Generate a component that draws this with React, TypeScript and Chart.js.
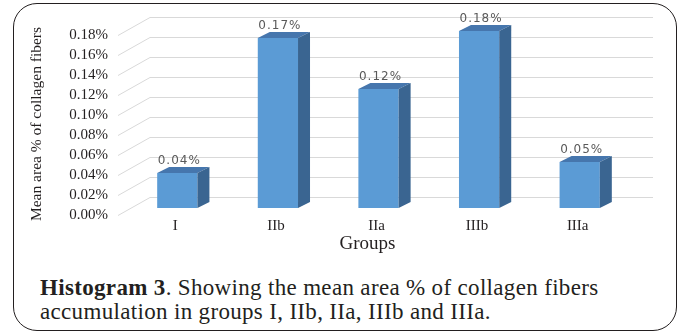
import React, { useEffect, useRef } from "react";
import { Chart, registerables } from "chart.js";

Chart.register(...registerables);

const categories = ["I", "IIb", "IIa", "IIIb", "IIIa"];
const meanAreaPct = [0.035, 0.17, 0.119, 0.177, 0.046];
const yMin = 0;
const yMax = 0.18;
const yStep = 0.02;
const yAxisTitle = "Mean area % of collagen fibers";
const xAxisTitle = "Groups";
const captionBold = "Histogram 3";
const captionRest = ". Showing the mean area % of collagen fibers";
const captionLine2 = "accumulation in groups I, IIb, IIa, IIIb and IIIa.";

const SERIF = '"Liberation Serif", "Times New Roman", serif';
const FRONT = "#5b9bd5";
const TOP = "#4676ad";
const SIDE = "#3a6591";
const GRID = "#d9d9d9";
const BAR_DX = 12;
const BAR_DY = 6;

const threeD = {
  id: "threeD",
  beforeDatasetsDraw(chart: any) {
    const { ctx, chartArea, scales } = chart;
    const y = scales.y;
    ctx.save();
    ctx.strokeStyle = GRID;
    ctx.lineWidth = 1;
    y.ticks.forEach((t: any) => {
      const py = Math.round(y.getPixelForValue(t.value)) + 0.5;
      ctx.beginPath();
      ctx.moveTo(chartArea.left - 9, py + 7);
      ctx.lineTo(chartArea.left + 23, py - 11);
      ctx.lineTo(chartArea.right + 23, py - 11);
      ctx.stroke();
    });
    ctx.restore();
  },
  afterDatasetsDraw(chart: any) {
    const { ctx } = chart;
    const meta = chart.getDatasetMeta(0);
    ctx.save();
    meta.data.forEach((bar: any, i: number) => {
      const { x, y, base, width } = bar.getProps(["x", "y", "base", "width"], true);
      const l = x - width / 2;
      const r = x + width / 2;
      ctx.fillStyle = TOP;
      ctx.beginPath();
      ctx.moveTo(l, y);
      ctx.lineTo(l + BAR_DX, y - BAR_DY);
      ctx.lineTo(r + BAR_DX, y - BAR_DY);
      ctx.lineTo(r, y);
      ctx.closePath();
      ctx.fill();
      ctx.fillStyle = SIDE;
      ctx.beginPath();
      ctx.moveTo(r, y);
      ctx.lineTo(r + BAR_DX, y - BAR_DY);
      ctx.lineTo(r + BAR_DX, base - BAR_DY);
      ctx.lineTo(r, base);
      ctx.closePath();
      ctx.fill();
      const v = meanAreaPct[i];
      ctx.fillStyle = "#595959";
      ctx.font = '12px "DejaVu Sans", sans-serif';
      try { (ctx as any).letterSpacing = "1px"; } catch (e) {}
      ctx.textAlign = "center";
      ctx.textBaseline = "alphabetic";
      ctx.fillText(v.toFixed(2) + "%", x + 2, y - BAR_DY - 3);
    });
    ctx.restore();
  },
  afterDraw(chart: any) {
    const { ctx, chartArea } = chart;
    ctx.save();
    ctx.fillStyle = "#231f20";
    ctx.font = "15.5px " + SERIF;
    ctx.textAlign = "center";
    ctx.textBaseline = "middle";
    ctx.translate(37, (chartArea.top + chartArea.bottom) / 2 + 6);
    ctx.rotate(-Math.PI / 2);
    ctx.fillText(yAxisTitle, 0, 0);
    ctx.restore();
    ctx.save();
    ctx.fillStyle = "#231f20";
    ctx.font = "19px " + SERIF;
    ctx.textAlign = "center";
    ctx.textBaseline = "alphabetic";
    ctx.fillText(xAxisTitle, (chartArea.left + chartArea.right) / 2 - 11, 249);
    ctx.restore();
  },
};

export default function App() {
  const ref = useRef<HTMLCanvasElement | null>(null);
  useEffect(() => {
    if (!ref.current) return;
    const chart = new Chart(ref.current, {
      type: "bar",
      data: {
        labels: categories,
        datasets: [
          {
            data: meanAreaPct,
            backgroundColor: FRONT,
            borderWidth: 0,
            barPercentage: 0.4,
            categoryPercentage: 1,
          },
        ],
      },
      options: {
        animation: false,
        responsive: false,
        maintainAspectRatio: false,
        devicePixelRatio: 1,
        layout: { padding: { top: 28, right: 50, left: 0, bottom: 0 } },
        plugins: { legend: { display: false }, tooltip: { enabled: false }, title: { display: false } },
        scales: {
          y: {
            min: yMin,
            max: yMax,
            grid: { display: false, drawTicks: false },
            border: { display: false },
            ticks: {
              stepSize: yStep,
              autoSkip: false,
              padding: 19,
              labelOffset: 7,
              color: "#231f20",
              font: { family: SERIF, size: 15 },
              callback: (v: any) => Number(v).toFixed(2) + "%",
            },
            afterFit: (s: any) => {
              s.width = 127;
            },
          },
          x: {
            grid: { display: false, drawTicks: false },
            border: { display: false },
            ticks: {
              autoSkip: false,
              padding: 9,
              labelOffset: -2,
              color: "#231f20",
              font: { family: SERIF, size: 15 },
            },
            afterFit: (s: any) => {
              s.height = 265 - 208;
            },
          },
        },
      },
      plugins: [threeD],
    });
    return () => chart.destroy();
  }, []);

  return (
    <div style={{ position: "absolute", left: 0, top: 0, width: 680, height: 333, background: "#fff", overflow: "hidden" }}>
      <div
        style={{
          position: "absolute",
          left: 13,
          top: 3,
          width: 664,
          height: 328,
          boxSizing: "border-box",
          border: "1.5px solid #231f20",
          borderRadius: 24,
        }}
      />
      <canvas ref={ref} width={680} height={265} style={{ position: "absolute", left: 0, top: 0, width: 680, height: 265 }} />
      <div
        style={{
          position: "absolute",
          left: 40,
          top: 276,
          fontFamily: SERIF,
          fontSize: 23,
          letterSpacing: "0.33px",
          lineHeight: "24px",
          color: "#231f20",
          whiteSpace: "nowrap",
        }}
      >
        <div>
          <b>{captionBold}</b>
          {captionRest}
        </div>
        <div>{captionLine2}</div>
      </div>
    </div>
  );
}
